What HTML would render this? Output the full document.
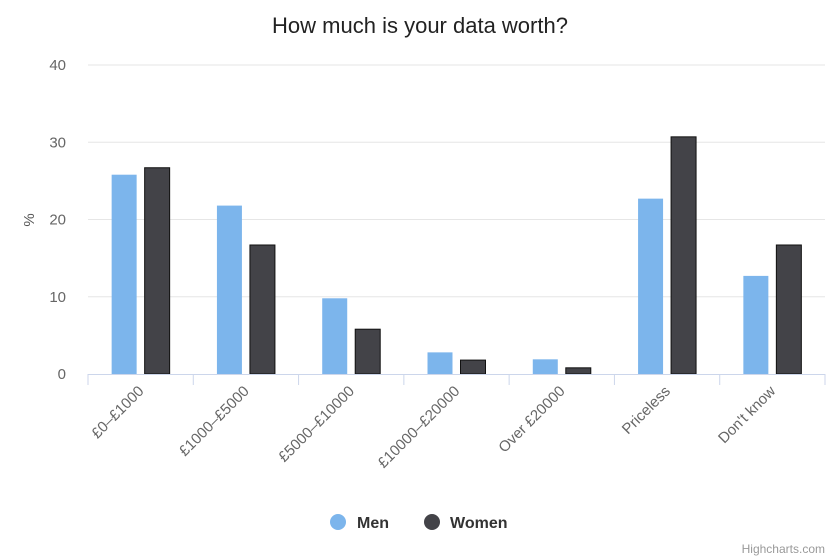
<!DOCTYPE html>
<html><head><meta charset="utf-8"><style>
body{margin:0;background:#fff;}
svg{display:block;font-family:"Liberation Sans","DejaVu Sans",sans-serif;}
</style></head><body>
<svg id="chart" width="840" height="560">
<rect width="840" height="560" fill="#fff"/>
<text x="420" y="33" text-anchor="middle" font-size="22" fill="#222">How much is your data worth?</text>
<text x="0" y="0" transform="translate(34,220) rotate(-90)" text-anchor="middle" font-size="15" fill="#555">%</text>
<g id="grid"></g><g id="bars"></g><g id="xaxis"></g>
<g>
<g><circle cx="338" cy="522" r="8" fill="#7cb5ec"/><text x="357" y="528" font-size="16" font-weight="bold" fill="#333">Men</text></g>
<g><circle cx="432" cy="522" r="8" fill="#434348"/><text x="450" y="528" font-size="16" font-weight="bold" fill="#333">Women</text></g>
</g>
<text x="825" y="553" text-anchor="end" font-size="12" fill="#999">Highcharts.com</text>
</svg>
<script>
const categories=["£0–£1000","£1000–£5000","£5000–£10000","£10000–£20000","Over £20000","Priceless","Don't know"];
const men=[25.8,21.8,9.8,2.8,1.9,22.7,12.7];
const women=[26.7,16.7,5.8,1.8,0.8,30.7,16.7];
const yTicks=[0,10,20,30,40];
const NS="http://www.w3.org/2000/svg";
const L=88,R=825,T=65,B=374,yMax=40;
const y=v=>B-(B-T)*v/yMax;
const cw=(R-L)/categories.length;
function mk(tag,attrs,parent,txt){const e=document.createElementNS(NS,tag);for(const k in attrs)e.setAttribute(k,attrs[k]);if(txt!=null)e.textContent=txt;parent.appendChild(e);return e;}
const grid=document.getElementById('grid'),bars=document.getElementById('bars'),xa=document.getElementById('xaxis');
yTicks.forEach(t=>{
 if(t>0){const l=mk('line',{x1:L,x2:R,y1:y(t),y2:y(t),stroke:'#e6e6e6'},grid);
 
 }
 const tx=mk('text',{x:66,y:y(t)+5,'text-anchor':'end','font-size':15,fill:'#666'},grid,t);
 
 
});
const bw=25,gap=8;
categories.forEach((c,i)=>{
 const x0=L+i*cw, cx=x0+cw/2;
 [[men,'#7cb5ec','#7cb5ec','men'],[women,'#434348','#222','women']].forEach((s,j)=>{
  const v=s[0][i];const bx=cx-bw-gap/2+j*(bw+gap);
  const r=mk('rect',{x:bx,y:y(v),width:bw,height:B-y(v),fill:s[1],stroke:j?'#111':'none','stroke-width':1},bars);
  
  
 });
 const tk=mk('line',{x1:x0,x2:x0,y1:B,y2:B+11,stroke:'#ccd6eb'},xa);
 
 
 const lb=mk('text',{x:cx+4,y:B+18,'text-anchor':'end','font-size':15,fill:'#666',transform:`rotate(-45 ${cx+4} ${B+18})`},xa,c);
 
 
});
const lt=mk('line',{x1:R,x2:R,y1:B,y2:B+11,stroke:'#ccd6eb'},xa);


const ax=mk('line',{x1:L,x2:R,y1:B+0.5,y2:B+0.5,stroke:'#ccd6eb'},xa);


</script>
</body></html>
